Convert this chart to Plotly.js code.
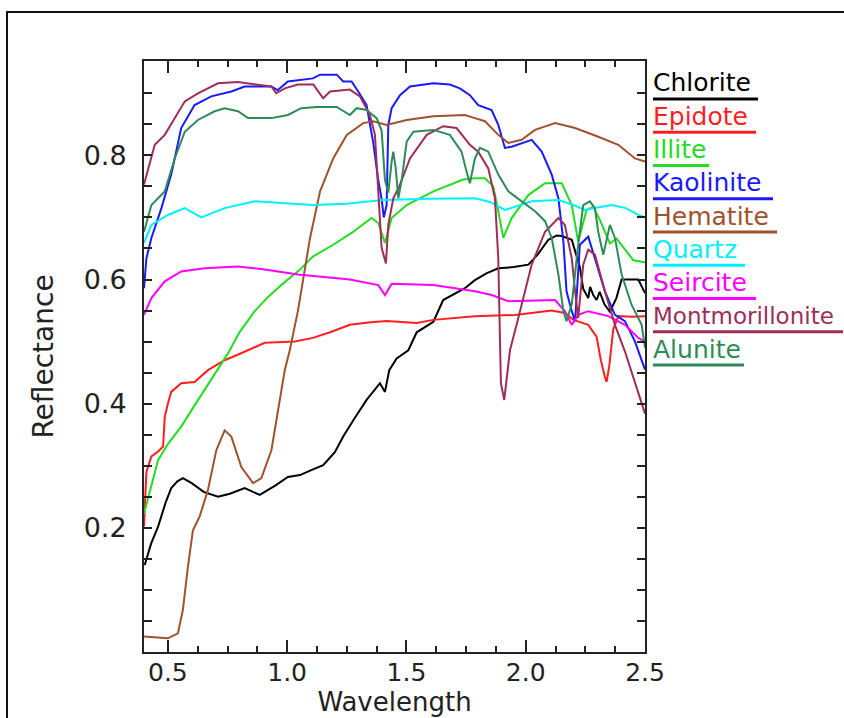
<!DOCTYPE html>
<html>
<head>
<meta charset="utf-8">
<script src="https://cdn.plot.ly/plotly-3.0.1.min.js"></script>
<style>
html,body{margin:0;padding:0;background:#fff;overflow:hidden;}
#chart{width:844px;height:718px;}
</style>
</head>
<body>
<div id="chart"></div>
<script>
// ---------- data (wavelength in micrometres, reflectance) ----------
const mineralNames = ["Chlorite","Epidote","Illite","Kaolinite","Hematite","Quartz","Seircite","Montmorillonite","Alunite"];
const mineralColors = ["#000000","#ff1f1f","#22dd22","#1a1aff","#a0522d","#00f0ff","#ff00ff","#a02c5a","#2e8b57"];

const chloriteWl = [0.403,0.43,0.459,0.49,0.514,0.54,0.563,0.6,0.65,0.71,0.76,0.822,0.885,0.95,1.003,1.054,1.101,1.151,1.2,1.235,1.28,1.333,1.389,1.41,1.428,1.459,1.508,1.543,1.613,1.654,1.745,1.787,1.835,1.885,1.95,2.011,2.05,2.095,2.13,2.151,2.193,2.213,2.227,2.241,2.262,2.27,2.283,2.297,2.31,2.33,2.353,2.38,2.402,2.44,2.472,2.5];
const chloriteR  = [0.140,0.175,0.202,0.240,0.264,0.275,0.280,0.272,0.258,0.250,0.255,0.264,0.253,0.268,0.282,0.285,0.293,0.301,0.322,0.347,0.375,0.406,0.433,0.419,0.454,0.473,0.486,0.515,0.532,0.567,0.586,0.599,0.610,0.618,0.620,0.624,0.640,0.664,0.671,0.670,0.664,0.640,0.620,0.585,0.570,0.588,0.575,0.567,0.580,0.560,0.548,0.570,0.600,0.600,0.600,0.578];

const epidoteWl = [0.4,0.41,0.431,0.459,0.48,0.487,0.5,0.514,0.556,0.612,0.668,0.738,0.8,0.836,0.906,1.032,1.108,1.18,1.263,1.35,1.417,1.543,1.613,1.787,1.955,2.109,2.164,2.2,2.262,2.297,2.315,2.332,2.339,2.35,2.367,2.388,2.45,2.5];
const epidoteR  = [0.202,0.290,0.315,0.323,0.331,0.379,0.400,0.419,0.433,0.435,0.454,0.470,0.480,0.486,0.498,0.500,0.506,0.515,0.527,0.531,0.533,0.530,0.535,0.541,0.543,0.550,0.546,0.535,0.527,0.508,0.470,0.443,0.435,0.460,0.520,0.541,0.540,0.541];

const illiteWl = [0.4,0.459,0.5,0.556,0.6,0.654,0.7,0.752,0.8,0.864,0.92,0.975,1.054,1.108,1.193,1.27,1.354,1.382,1.41,1.438,1.501,1.613,1.738,1.787,1.829,1.864,1.885,1.906,1.941,2.011,2.081,2.151,2.193,2.22,2.255,2.283,2.311,2.353,2.381,2.451,2.5];
const illiteR  = [0.223,0.309,0.335,0.363,0.390,0.422,0.450,0.481,0.515,0.549,0.572,0.591,0.616,0.637,0.656,0.675,0.699,0.691,0.659,0.699,0.720,0.742,0.761,0.763,0.763,0.750,0.710,0.667,0.699,0.736,0.755,0.755,0.720,0.661,0.712,0.717,0.696,0.658,0.666,0.631,0.628];

const kaoliniteWl = [0.4,0.41,0.431,0.473,0.514,0.556,0.612,0.682,0.766,0.822,0.934,0.96,1.003,1.054,1.108,1.138,1.208,1.235,1.27,1.298,1.333,1.361,1.375,1.382,1.396,1.405,1.417,1.424,1.438,1.473,1.515,1.613,1.682,1.724,1.766,1.801,1.857,1.885,1.913,1.941,2.025,2.067,2.109,2.137,2.158,2.171,2.193,2.207,2.227,2.262,2.29,2.332,2.374,2.416,2.458,2.5];
const kaoliniteR  = [0.586,0.634,0.667,0.715,0.769,0.844,0.881,0.895,0.903,0.911,0.911,0.905,0.919,0.922,0.924,0.930,0.930,0.919,0.919,0.903,0.881,0.820,0.780,0.760,0.730,0.700,0.720,0.849,0.876,0.897,0.911,0.916,0.914,0.908,0.897,0.881,0.873,0.849,0.812,0.814,0.825,0.806,0.769,0.731,0.661,0.581,0.549,0.533,0.656,0.669,0.634,0.581,0.543,0.533,0.500,0.455];

const hematiteWl = [0.4,0.5,0.542,0.563,0.584,0.605,0.633,0.668,0.703,0.738,0.766,0.808,0.857,0.892,0.934,0.962,0.99,1.011,1.045,1.096,1.138,1.193,1.25,1.319,1.361,1.417,1.501,1.613,1.745,1.787,1.829,1.885,1.927,1.983,2.039,2.123,2.207,2.304,2.388,2.458,2.5];
const hematiteR  = [0.025,0.022,0.030,0.068,0.137,0.196,0.218,0.261,0.325,0.357,0.347,0.298,0.272,0.280,0.325,0.390,0.454,0.486,0.549,0.667,0.742,0.795,0.833,0.852,0.855,0.849,0.857,0.863,0.865,0.860,0.855,0.833,0.820,0.825,0.841,0.852,0.844,0.830,0.817,0.795,0.790];

const quartzWl = [0.4,0.431,0.5,0.571,0.64,0.738,0.864,1.0,1.108,1.25,1.403,1.6,1.787,1.85,1.913,2.025,2.137,2.2,2.248,2.3,2.36,2.42,2.472,2.5];
const quartzR  = [0.659,0.688,0.704,0.715,0.700,0.715,0.726,0.722,0.720,0.722,0.728,0.730,0.731,0.725,0.712,0.726,0.728,0.720,0.712,0.716,0.720,0.715,0.704,0.700];

const seirciteWl = [0.4,0.431,0.487,0.556,0.654,0.794,0.906,1.045,1.263,1.382,1.41,1.438,1.613,1.787,1.857,1.927,2.123,2.164,2.193,2.22,2.262,2.346,2.416,2.472,2.5];
const seirciteR  = [0.543,0.570,0.597,0.613,0.618,0.621,0.616,0.608,0.600,0.591,0.575,0.593,0.591,0.581,0.575,0.565,0.567,0.549,0.527,0.543,0.549,0.541,0.527,0.506,0.500];

const montmorilloniteWl = [0.4,0.417,0.445,0.487,0.529,0.571,0.626,0.71,0.794,0.878,0.934,0.954,0.99,1.045,1.11,1.151,1.18,1.263,1.305,1.347,1.368,1.382,1.396,1.414,1.424,1.445,1.47,1.515,1.585,1.654,1.71,1.766,1.801,1.843,1.871,1.885,1.892,1.896,1.91,1.927,1.934,1.969,2.025,2.081,2.137,2.164,2.193,2.207,2.22,2.241,2.262,2.29,2.332,2.374,2.416,2.5];
const montmorilloniteR  = [0.753,0.779,0.817,0.833,0.860,0.887,0.900,0.916,0.918,0.914,0.911,0.900,0.908,0.914,0.914,0.892,0.903,0.906,0.895,0.865,0.833,0.742,0.651,0.626,0.688,0.731,0.750,0.795,0.833,0.847,0.844,0.817,0.806,0.779,0.731,0.634,0.473,0.433,0.406,0.465,0.486,0.538,0.624,0.677,0.699,0.688,0.634,0.581,0.538,0.624,0.648,0.640,0.581,0.527,0.484,0.384];

const aluniteWl = [0.4,0.431,0.487,0.529,0.571,0.626,0.696,0.738,0.794,0.836,0.934,1.003,1.059,1.124,1.208,1.263,1.291,1.333,1.375,1.396,1.41,1.424,1.438,1.445,1.455,1.466,1.48,1.501,1.529,1.613,1.682,1.731,1.752,1.766,1.787,1.808,1.843,1.885,1.927,1.983,2.039,2.081,2.109,2.137,2.158,2.171,2.193,2.22,2.241,2.269,2.29,2.304,2.325,2.353,2.374,2.402,2.444,2.486,2.5];
const aluniteR  = [0.677,0.720,0.742,0.795,0.838,0.857,0.871,0.876,0.871,0.860,0.860,0.865,0.876,0.878,0.878,0.865,0.876,0.873,0.860,0.840,0.760,0.740,0.790,0.806,0.780,0.731,0.760,0.822,0.838,0.841,0.833,0.806,0.774,0.755,0.795,0.812,0.806,0.769,0.742,0.726,0.710,0.694,0.667,0.608,0.549,0.533,0.560,0.656,0.720,0.726,0.715,0.677,0.640,0.688,0.667,0.608,0.559,0.527,0.490];

const xTickVals = [0.5,1.0,1.5,2.0,2.5];
const xTickText = ["0.5","1.0","1.5","2.0","2.5"];
const xMinorVals = [0.625,0.75,0.875,1.125,1.25,1.375,1.625,1.75,1.875,2.125,2.25,2.375];
const yTickVals = [0.2,0.4,0.6,0.8];
const yTickText = ["0.2","0.4","0.6","0.8"];
const yMinorVals = [0.05,0.1,0.15,0.25,0.3,0.35,0.45,0.5,0.55,0.65,0.7,0.75,0.85,0.9];

// ---------- build ----------
const seriesX = [chloriteWl,epidoteWl,illiteWl,kaoliniteWl,hematiteWl,quartzWl,seirciteWl,montmorilloniteWl,aluniteWl];
const seriesY = [chloriteR,epidoteR,illiteR,kaoliniteR,hematiteR,quartzR,seirciteR,montmorilloniteR,aluniteR];

const traces = mineralNames.map((n,i)=>({
  type:'scatter', mode:'lines', name:n,
  x:seriesX[i], y:seriesY[i],
  line:{color:mineralColors[i], width:2, shape:'linear'},
  hoverinfo:'skip'
}));

// plot area in pixels
const L=144, R=645, T=61, B=652;
const W=R-L, H=B-T;
const px = x => (x-L)/W;
const py = y => (B-y)/H;

const legendEnds = [758,756,709,773,777,745,756,843,744];
const annotations = [];
const shapes = [];
mineralNames.forEach((n,i)=>{
  const lineY = 99 + 33.25*i;
  const fs = (n.length > 12) ? 23 : 25;
  annotations.push({
    xref:'paper', yref:'paper', x:px(651), y:py(lineY-16),
    xanchor:'left', yanchor:'middle', showarrow:false,
    text:n, font:{family:'DejaVu Sans', size:fs, color:mineralColors[i]}
  });
  shapes.push({
    type:'line', xref:'paper', yref:'paper',
    x0:px(653), x1:px(legendEnds[i]), y0:py(lineY), y1:py(lineY),
    line:{color:mineralColors[i], width:3}
  });
});
// outer frame
shapes.push({type:'rect', xref:'paper', yref:'paper',
  x0:px(7), x1:px(900), y0:py(780), y1:py(12),
  line:{color:'#111', width:2}, fillcolor:'rgba(0,0,0,0)', layer:'above'});

const axisFont = {family:'DejaVu Sans', size:27, color:'#222'};
const xTickFont = {family:'DejaVu Sans', size:25, color:'#222'};
const titleFont = {family:'DejaVu Sans', size:28, color:'#222'};
const xTitleFont = {family:'DejaVu Sans', size:26, color:'#222'};

const layout = {
  width:844, height:718,
  paper_bgcolor:'#fff', plot_bgcolor:'#fff',
  showlegend:false,
  margin:{l:L, r:844-R, t:T, b:718-B, pad:0},
  xaxis:{
    range:[0.4,2.5], autorange:false, automargin:false,
    tickmode:'array', tickvals:xTickVals, ticktext:xTickText,
    ticks:'inside', ticklen:12, tickwidth:2, tickcolor:'#222',
    showline:true, linecolor:'#222', linewidth:2, mirror:'ticks',
    showgrid:false, zeroline:false,
    tickfont:xTickFont, ticklabelstandoff:-3,
    minor:{tickmode:'array', tickvals:xMinorVals, ticks:'inside', ticklen:6, tickwidth:2, tickcolor:'#222', showgrid:false},
    title:{text:'Wavelength', font:xTitleFont, standoff:4}
  },
  yaxis:{
    range:[0,0.952], autorange:false, automargin:false,
    tickmode:'array', tickvals:yTickVals, ticktext:yTickText,
    ticks:'inside', ticklen:8, tickwidth:2, tickcolor:'#222',
    showline:true, linecolor:'#222', linewidth:2, mirror:'ticks',
    showgrid:false, zeroline:false,
    tickfont:axisFont, ticklabelstandoff:10,
    minor:{tickmode:'array', tickvals:yMinorVals, ticks:'inside', ticklen:8, tickwidth:2, tickcolor:'#222', showgrid:false},
    title:{text:'Reflectance', font:titleFont, standoff:22}
  },
  annotations:annotations,
  shapes:shapes
};

Plotly.newPlot('chart', traces, layout, {staticPlot:true, displayModeBar:false});
</script>
</body>
</html>
